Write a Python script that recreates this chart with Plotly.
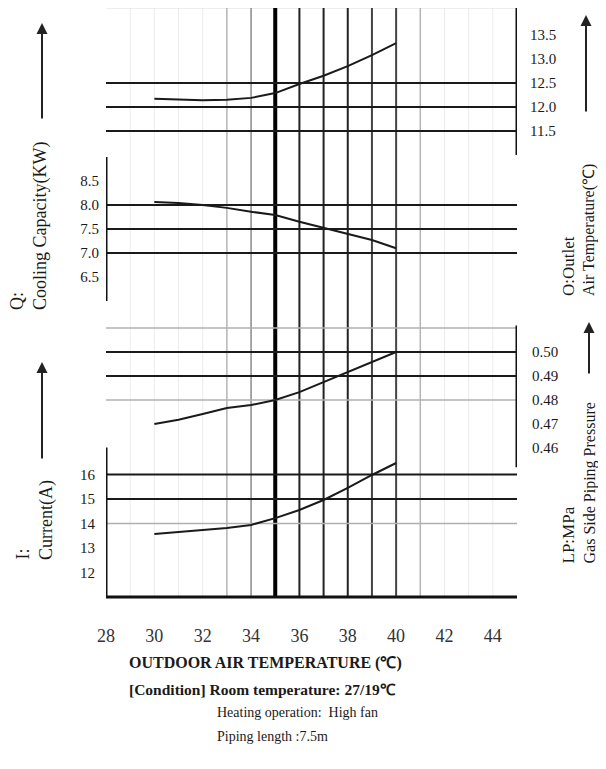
import plotly.graph_objects as go

# page is 606x769 but the html body adds an 8px margin, so the figure is smaller
PAGE_W, PAGE_H, OFF = 606, 769, 8
# plot area in page pixels (left, right, top, bottom)
L, R, T, B = 106, 517, 8, 597

temps = [30, 31, 32, 33, 34, 35, 36, 37, 38, 39, 40]
outlet_temp = [12.17, 12.15, 12.14, 12.15, 12.19, 12.29, 12.48, 12.65, 12.85, 13.08, 13.33]
capacity = [8.06, 8.04, 8.00, 7.94, 7.86, 7.79, 7.65, 7.52, 7.40, 7.27, 7.10]
pressure = [0.470, 0.4718, 0.4742, 0.4767, 0.4779, 0.480, 0.4833, 0.4875, 0.4917, 0.4958, 0.500]
current = [13.57, 13.65, 13.73, 13.82, 13.94, 14.22, 14.55, 14.96, 15.45, 15.98, 16.47]

x_ticks = [28, 30, 32, 34, 36, 38, 40, 42, 44]
outlet_ticks = [11.5, 12.0, 12.5, 13.0, 13.5]
capacity_ticks = [6.5, 7.0, 7.5, 8.0, 8.5]
pressure_ticks = [0.46, 0.47, 0.48, 0.49, 0.50]
current_ticks = [12, 13, 14, 15, 16]

# reference lines of each band
outlet_lines = [11.5, 12.0, 12.5]
capacity_lines = [7.0, 7.5, 8.0]
pressure_lines = [0.49, 0.50]
pressure_light = [0.48, 0.51]
current_lines = [15, 16]
current_light = [14]

FONT = "Liberation Serif"
INK = "#1a1a1a"


def px(x):
    return (x - L) / (R - L)


def py(y):
    return (B - y) / (B - T)


def yrange(value, at_px, px_per_unit):
    # axis range that puts `value` at page row `at_px`
    return [value - (B - at_px) / px_per_unit, value + (at_px - T) / px_per_unit]


fig = go.Figure()
series = [(capacity, "y"), (outlet_temp, "y2"), (pressure, "y3"), (current, "y4")]
for vals, ax in series:
    fig.add_trace(go.Scatter(x=temps, y=vals, yaxis=ax, mode="lines",
                             line=dict(color=INK, width=2), showlegend=False,
                             hoverinfo="skip"))

shapes = []


def hline(y, ref, color=INK, width=2):
    shapes.append(dict(type="line", xref="x", yref=ref, x0=28, x1=45, y0=y, y1=y,
                       line=dict(color=color, width=width), layer="below"))


def vline(x, color, width):
    shapes.append(dict(type="line", xref="x", yref="paper", x0=x, x1=x, y0=0, y1=1,
                       line=dict(color=color, width=width), layer="below"))


# faint background grid
for x in [29, 30, 31, 32, 42, 43, 44]:
    vline(x, "#ececec", 1)
shapes.append(dict(type="line", xref="paper", yref="paper", x0=0, x1=1, y0=1, y1=1,
                   line=dict(color="#dddddd", width=1), layer="below"))
vline(33, "#b5b5b5", 1.5)
vline(34, "#8a8a8a", 1.5)
vline(41, "#b5b5b5", 1.5)
for x in [36, 37, 38]:
    vline(x, "#222222", 2)
for x in [39, 40]:
    vline(x, "#444444", 2)
vline(35, "#000000", 4)

for y in outlet_lines:
    hline(y, "y2")
for y in capacity_lines:
    hline(y, "y")
for y in pressure_lines:
    hline(y, "y3")
for y in pressure_light:
    hline(y, "y3", "#b0b0b0", 1.5)
for y in current_lines:
    hline(y, "y4")
for y in current_light:
    hline(y, "y4", "#b0b0b0", 1.5)

# partial axis lines
axis_line = dict(color="#111111", width=3)
shapes += [
    dict(type="line", xref="x", yref="y", x0=28, x1=28, y0=6.0, y1=9.0, line=axis_line),
    dict(type="line", xref="x", yref="y4", x0=28, x1=28, y0=11.0, y1=17.1, line=axis_line),
    dict(type="line", xref="x", yref="y2", x0=45, x1=45, y0=11.0, y1=14.2, line=axis_line),
    dict(type="line", xref="x", yref="y3", x0=45, x1=45, y0=0.452, y1=0.511, line=axis_line),
    dict(type="line", xref="x", yref="paper", x0=28, x1=45, y0=0, y1=0, line=axis_line),
]

tick_font = dict(family=FONT, size=15, color=INK)
yaxis_common = dict(showgrid=False, zeroline=False, showline=False, ticks="",
                    tickfont=tick_font, anchor="x", fixedrange=True)

annotations = []


def label(text, x, y, size=17, bold=False, angle=0, xanchor="left", yanchor="middle"):
    if bold:
        text = "<b>" + text + "</b>"
    annotations.append(dict(text=text, x=px(x), y=py(y), xref="paper", yref="paper",
                            showarrow=False, textangle=angle, xanchor=xanchor,
                            yanchor=yanchor, font=dict(family=FONT, size=size, color=INK)))


def side_label(text, x, bottom, size=18):
    label(text, x, bottom, size=size, angle=-90, xanchor="center", yanchor="bottom")


def arrow(x, tip, tail):
    annotations.append(dict(text="", x=px(x), y=py(tip), xref="paper", yref="paper",
                            ax=0, ay=tail - tip, axref="pixel", ayref="pixel",
                            showarrow=True, arrowhead=2, arrowsize=1.1, arrowwidth=2,
                            arrowcolor="#222222"))


label("OUTDOOR AIR TEMPERATURE (℃)", 127, 663, size=16, bold=True)
label("[Condition] Room temperature: 27/19℃", 127, 689, size=15.5, bold=True)
label("Heating operation:  High fan", 215, 712, size=14)
label("Piping length :7.5m", 215, 736, size=14)

side_label("Q:", 17, 312)
side_label("Cooling Capacity(KW)", 40, 312)
side_label("I:", 22, 562)
side_label("Current(A)", 46, 562)
side_label("O:Outlet", 568, 298, size=17)
side_label("Air Temperature(℃)", 589, 298, size=16)
side_label("LP:MPa", 568, 566, size=17)
side_label("Gas Side Piping Pressure", 589, 566, size=16)

arrow(42, 23, 120)
arrow(42, 362, 460)
arrow(586, 15, 113)
arrow(589, 322, 375)

fig.update_layout(
    width=PAGE_W - OFF, height=PAGE_H - OFF,
    margin=dict(l=L - OFF, r=PAGE_W - R, t=T - OFF, b=PAGE_H - B),
    paper_bgcolor="white", plot_bgcolor="white",
    xaxis=dict(range=[28, 45], tickvals=x_ticks, showgrid=False, zeroline=False,
               showline=False, ticks="", ticklabelstandoff=26,
               tickfont=dict(family=FONT, size=18, color="#333333"), fixedrange=True),
    yaxis=dict(range=yrange(8.0, 205, 48), side="left", tickvals=capacity_ticks,
               tickformat=".1f", ticklabelstandoff=6, **yaxis_common),
    yaxis2=dict(range=yrange(12.0, 107, 48), side="right", overlaying="y",
                tickvals=outlet_ticks, tickformat=".1f", ticklabelstandoff=12,
                **yaxis_common),
    yaxis3=dict(range=yrange(0.50, 352, 2400), side="right", overlaying="y",
                tickvals=pressure_ticks, tickformat=".2f", ticklabelstandoff=14,
                **yaxis_common),
    yaxis4=dict(range=yrange(15, 499, 24.5), side="left", overlaying="y",
                tickvals=current_ticks, ticklabelstandoff=10, **yaxis_common),
    shapes=shapes,
    annotations=annotations,
)

fig.write_html("out.html")
